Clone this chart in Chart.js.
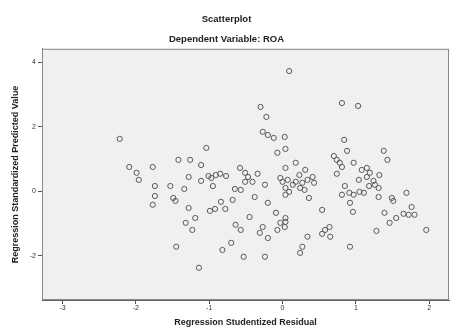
<!DOCTYPE html>
<html>
<head>
<meta charset="utf-8">
<title>Scatterplot</title>
<script src="https://cdn.jsdelivr.net/npm/chart.js@4"></script>
<style>
  html, body { margin: 0; padding: 0; background: #fff; }
  #wrap { width: 454px; height: 329px; }
</style>
</head>
<body>
<div id="wrap"><canvas id="chart" width="454" height="329"></canvas></div>
<script>
// Regression Studentized Residual (x) and Standardized Predicted Value (y)
const residual = [
  -2.22, -2.09, -1.99, -1.96, -1.77, -1.74, -1.74, -1.77, -1.53, -1.49,
  -1.46, -1.42, -1.26, -1.28, -1.34, -1.28, -1.19, -1.32, -1.23, -1.45,
  -1.14, -1.04, -1.11, -1.11, -1.01, -0.97, -0.91, -0.85, -0.95, -0.99,
  -0.92, -0.78, -0.84, -0.68, -0.65, -0.64, -0.70, -0.82, -0.58, -0.51,
  -0.57, -0.51, -0.57, -0.53, -0.41, -0.34, -0.24, -0.38, -0.20, -0.45,
  -0.27, -0.31, -0.20, -0.24, -0.30, -0.22, -0.27, -0.20, -0.12, 0.03,
  -0.07, 0.04, 0.04, -0.09, -0.03, 0.04, -0.07, 0.00, 0.04, 0.09,
  0.07, 0.09, 0.04, 0.04, 0.03, 0.18, 0.23, 0.31, 0.18, 0.27,
  0.24, 0.30, 0.41, 0.43, 0.36, 0.54, 0.64, 0.58, 0.54, 0.65,
  0.34, 0.27, 0.24, 0.74, 0.70, 0.74, 0.78, 0.81, 0.81, 1.03,
  0.84, 0.88, 0.97, 0.85, 0.81, 0.92, 0.96, 0.92, 0.97, 1.05,
  1.11, 1.04, 1.15, 1.19, 1.15, 1.24, 1.26, 1.31, 1.32, 1.31,
  1.38, 1.43, 1.49, 1.51, 1.39, 1.46, 1.28, 1.55, 1.65, 1.72,
  1.80, 1.69, 1.76, 1.96, -0.03, 0.14, 1.18, 1.08, -0.77, -0.47,
  0.34, 0.91
];
const predicted = [
  1.62, 0.75, 0.57, 0.35, 0.75, 0.16, -0.15, -0.42, 0.16, -0.21,
  -0.30, 0.97, 0.97, 0.44, 0.07, -0.52, -0.83, -0.98, -1.20, -1.72,
  -2.37, 1.34, 0.81, 0.32, 0.47, 0.41, 0.50, 0.54, 0.16, -0.61,
  -0.55, -0.55, -0.33, -0.27, 0.07, -1.04, -1.60, -1.82, 0.72, 0.57,
  0.04, 0.29, -1.20, -2.03, 0.29, 0.54, 0.20, -0.18, -0.36, -0.80,
  -1.11, -1.29, -1.45, -2.03, 2.61, 2.30, 1.84, 1.74, 1.65, 1.68,
  1.19, 1.31, 0.72, -0.67, -0.98, -0.95, -1.20, 0.29, 0.10, 3.72,
  0.35, -0.02, -0.11, -0.83, -1.11, 0.88, 0.50, 0.66, 0.29, 0.26,
  0.10, 0.04, 0.44, 0.26, -0.21, -0.58, -1.11, -1.20, -1.32, -1.41,
  -1.41, -1.72, -1.91, 0.54, 1.09, 0.97, 0.88, 0.75, 2.73, 2.64,
  1.59, 1.25, 0.88, 0.16, -0.11, -0.36, -0.64, -1.72, -0.11, -0.02,
  -0.05, 0.35, 0.72, 0.57, 0.44, 0.32, 0.20, 0.10, 0.50, -0.18,
  1.25, 0.97, -0.21, -0.30, -0.67, -0.98, -1.23, -0.83, -0.70, -0.73,
  -0.73, -0.05, -0.49, -1.20, 0.41, 0.20, 0.16, 0.66, 0.47, 0.44,
  0.35, -0.05
];
const xTicks = [-3, -2, -1, 0, 1, 2];
const yTicks = [-2, 0, 2, 4];

const points = residual.map((r, i) => ({ x: r, y: predicted[i] }));

// grey plot panel with a thin frame, like SPSS output
const plotFrame = {
  id: 'plotFrame',
  beforeDraw(chart) {
    const { ctx, chartArea: a } = chart;
    ctx.save();
    ctx.fillStyle = '#f0f0f0';
    ctx.fillRect(a.left, a.top, a.right - a.left, a.bottom - a.top);
    ctx.restore();
  },
  beforeDatasetsDraw(chart) {
    const { ctx, chartArea: a } = chart;
    ctx.save();
    ctx.strokeStyle = '#888';
    ctx.lineWidth = 1;
    ctx.strokeRect(a.left + 0.5, a.top + 0.5, a.right - a.left - 1, a.bottom - a.top - 1);
    ctx.restore();
  }
};

Chart.defaults.font.family = '"Liberation Sans", Arial, sans-serif';
Chart.defaults.color = '#222';

new Chart(document.getElementById('chart'), {
  type: 'scatter',
  data: {
    datasets: [{
      data: points,
      pointStyle: 'circle',
      pointRadius: 2.6,
      pointBorderWidth: 1,
      borderColor: '#5a5a5a',
      backgroundColor: 'rgba(0,0,0,0)'
    }]
  },
  options: {
    responsive: false,
    animation: false,
    layout: { padding: { top: 0, right: 1, bottom: 0, left: 0 } },
    plugins: {
      legend: { display: false },
      tooltip: { enabled: false },
      title: {
        display: true,
        text: 'Scatterplot',
        font: { size: 9.5, weight: 'bold' },
        color: '#222',
        padding: { top: 14, bottom: 3 }
      },
      subtitle: {
        display: true,
        text: 'Dependent Variable: ROA',
        font: { size: 9.5, weight: 'bold' },
        color: '#222',
        padding: { top: 5, bottom: 4 }
      }
    },
    scales: {
      x: {
        type: 'linear',
        min: -3.28,
        max: 2.27,
        afterBuildTicks: s => { s.ticks = xTicks.map(v => ({ value: v })); },
        afterFit: s => { s.height = 29; },
        grid: { drawOnChartArea: false, tickLength: 4, color: '#555' },
        border: { color: '#666' },
        ticks: { font: { size: 7 }, color: '#333', padding: 0, maxRotation: 0 },
        title: {
          display: true,
          text: 'Regression Studentized Residual',
          font: { size: 9, weight: 'bold' },
          color: '#222',
          padding: { top: 0, bottom: 1 }
        }
      },
      y: {
        type: 'linear',
        min: -3.37,
        max: 4.41,
        afterBuildTicks: s => { s.ticks = yTicks.map(v => ({ value: v })); },
        afterFit: s => { s.width = 42; },
        grid: { drawOnChartArea: false, tickLength: 4, color: '#555' },
        border: { color: '#666' },
        ticks: { font: { size: 7 }, color: '#333', padding: 2 },
        title: {
          display: true,
          text: 'Regression Standardized Predicted Value',
          font: { size: 9, weight: 'bold' },
          color: '#222',
          padding: { top: 10, bottom: 0 }
        }
      }
    }
  },
  plugins: [plotFrame]
});
</script>
</body>
</html>
